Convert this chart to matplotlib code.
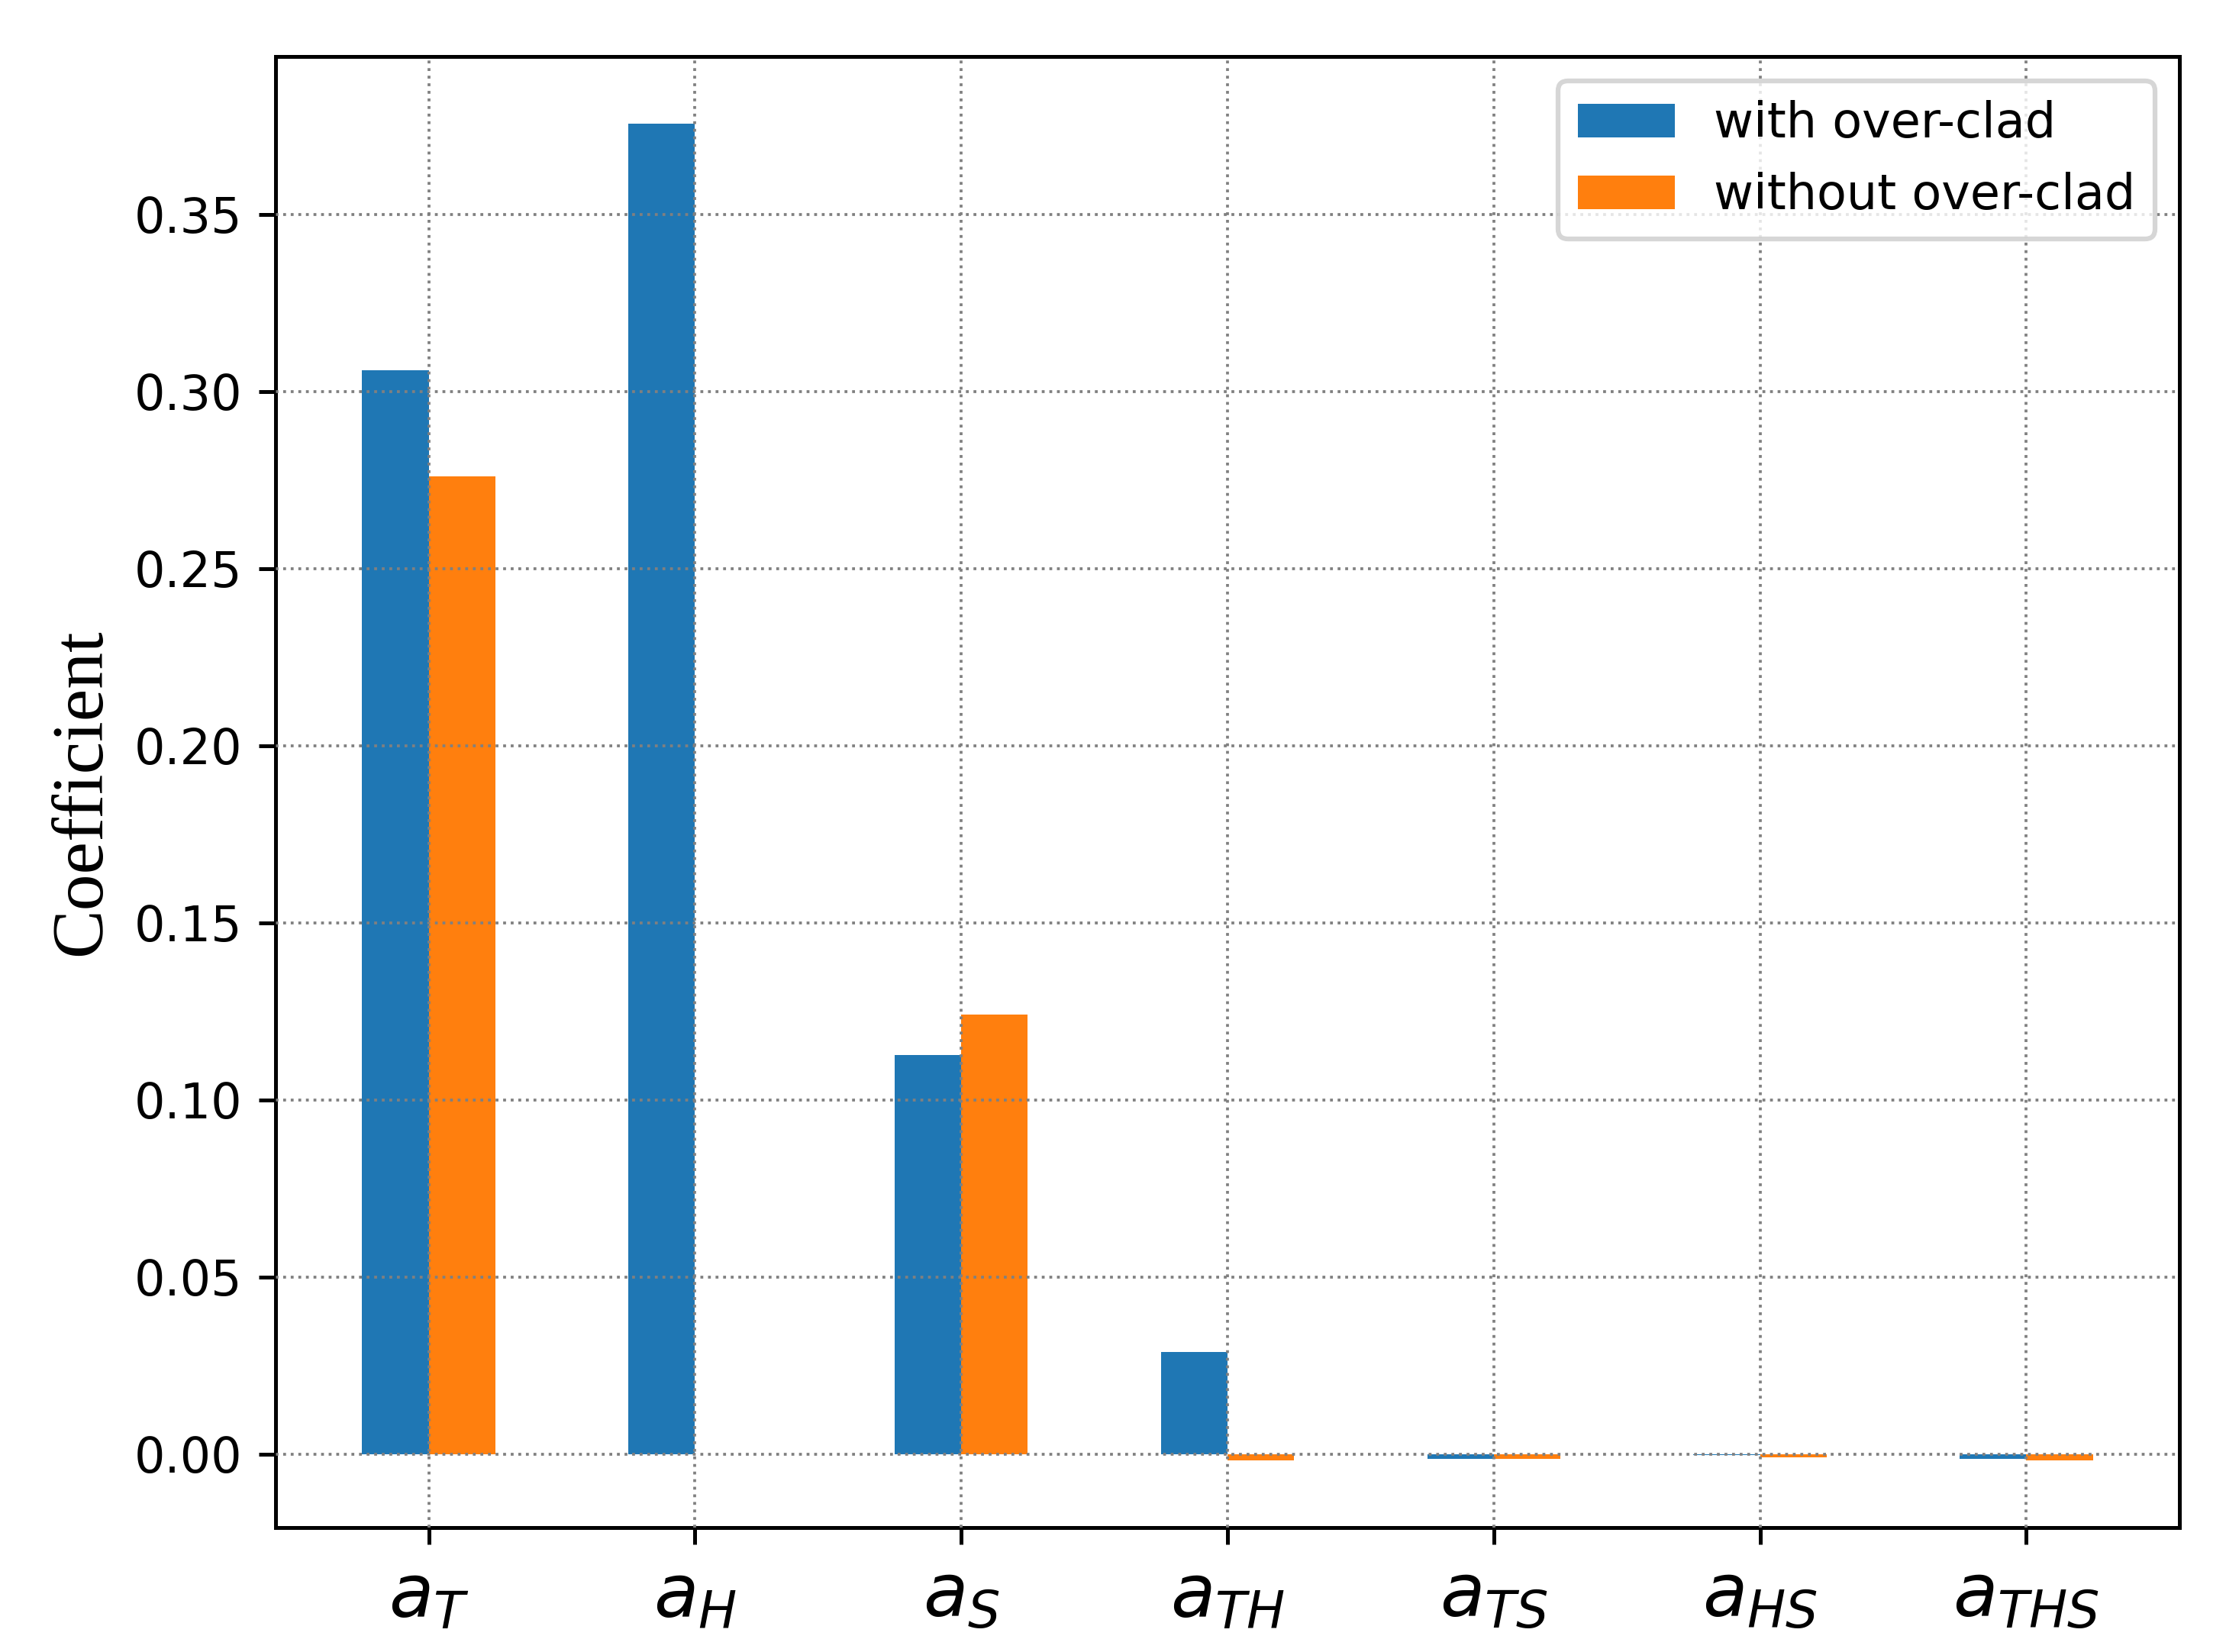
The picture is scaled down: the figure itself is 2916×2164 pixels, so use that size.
import matplotlib
matplotlib.use("Agg")
import matplotlib.pyplot as plt
import numpy as np

categories = [r"$a_T$", r"$a_H$", r"$a_S$", r"$a_{TH}$", r"$a_{TS}$", r"$a_{HS}$", r"$a_{THS}$"]
with_overclad = [0.306, 0.3757, 0.1127, 0.0289, -0.0013, -0.0002, -0.0013]
without_overclad = [0.276, 0.0, 0.124, -0.0019, -0.0014, -0.001, -0.0019]
series_labels = ["with over-clad", "without over-clad"]

fig = plt.figure(figsize=(2916 / 450, 2164 / 450), dpi=450)
ax = fig.add_axes([361 / 2916, 1 - 2001 / 2164, (2855 - 361) / 2916, (2001 - 74) / 2164])

x = np.arange(len(categories))
w = 0.25
ax.bar(x, with_overclad, width=-w, align="edge", color="#1f77b4", label=series_labels[0])
ax.bar(x, without_overclad, width=w, align="edge", color="#ff7f0e", label=series_labels[1])

ax.set_xticks(x)
ax.set_xticklabels(categories, fontsize=15.3)
ax.tick_params(axis="y", labelsize=10.2)
ax.set_ylabel("Coefficient", fontsize=15.3, family=["Liberation Serif", "DejaVu Serif"])
ax.grid(True, linestyle=":", color="gray", linewidth=0.6)
ax.set_axisbelow(False)
ax.legend(loc="upper right", fontsize=10.2)

fig.savefig("out.png", dpi=450)
